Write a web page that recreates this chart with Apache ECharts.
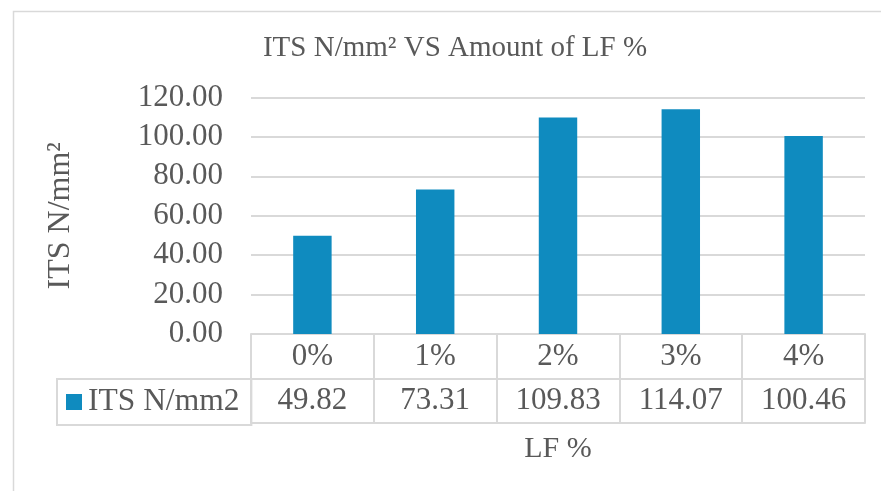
<!DOCTYPE html>
<html>
<head>
<meta charset="utf-8">
<title>ITS N/mm² VS Amount of LF %</title>
<script src="https://cdn.jsdelivr.net/npm/echarts@6/dist/echarts.min.js"></script>
<style>
  html, body { margin: 0; padding: 0; background: #ffffff; }
  #chart { width: 881px; height: 491px; }
</style>
</head>
<body>
<div id="chart"></div>
<script>
// LF content categories and measured indirect tensile strength
const lfCategories = ['0%', '1%', '2%', '3%', '4%'];
const itsValues = [49.82, 73.31, 109.83, 114.07, 100.46];
const seriesName = 'ITS N/mm2';

const FONT = '"Liberation Serif", "Times New Roman", serif';
const TEXT = '#595959';
const LINE = '#d9d9d9';
const BAR = '#0f8bbf';

const chart = echarts.init(document.getElementById('chart'), null, { renderer: 'canvas' });

const tableLine = { show: true, lineStyle: { color: LINE, width: 2 } };

chart.setOption({
  backgroundColor: '#ffffff',
  animation: false,
  graphic: [{
    // chart-area frame
    type: 'rect',
    left: 11, top: 9,
    shape: { width: 900, height: 600 },
    style: { fill: 'none', stroke: LINE, lineWidth: 1.5 },
    silent: true, z: -10
  }],
  title: {
    text: 'ITS N/mm² VS Amount of LF %',
    left: 450,
    top: 29,
    textAlign: 'center',
    textStyle: { fontFamily: FONT, fontSize: 29, fontWeight: 'normal', color: TEXT }
  },
  legend: {
    data: [seriesName],
    left: 57,
    top: 379,
    orient: 'horizontal',
    icon: 'rect',
    itemWidth: 16,
    itemHeight: 16,
    padding: [7, 12, 7, 9],
    borderColor: LINE,
    borderWidth: 2,
    borderRadius: 0,
    textStyle: { fontFamily: FONT, fontSize: 31.5, color: TEXT, padding: [0, 0, 0, 1] }
  },
  grid: { left: 251, right: 16, top: 97.5, bottom: 157, containLabel: false },
  xAxis: [
    {
      // category row of the data table
      type: 'category',
      data: lfCategories,
      position: 'bottom',
      axisLine: tableLine,
      axisTick: { show: true, length: 45, interval: 0, lineStyle: { color: LINE, width: 2 } },
      axisLabel: {
        interval: 0, margin: 22.5, verticalAlign: 'middle',
        fontFamily: FONT, fontSize: 31, color: TEXT
      },
      splitLine: { show: false }
    },
    {
      // value row of the data table
      type: 'category',
      data: itsValues.map(v => v.toFixed(2)),
      position: 'bottom',
      offset: 45,
      axisLine: tableLine,
      axisTick: { show: true, length: 44, interval: 0, lineStyle: { color: LINE, width: 2 } },
      axisLabel: {
        interval: 0, margin: 22, verticalAlign: 'middle',
        fontFamily: FONT, fontSize: 31, color: TEXT
      },
      splitLine: { show: false }
    },
    {
      // table bottom edge and axis title
      type: 'category',
      data: lfCategories,
      position: 'bottom',
      offset: 89,
      axisLine: tableLine,
      axisTick: { show: false },
      axisLabel: { show: false },
      name: 'LF %',
      nameLocation: 'middle',
      nameGap: 11,
      nameTextStyle: { fontFamily: FONT, fontSize: 30, color: TEXT, verticalAlign: 'top' }
    }
  ],
  yAxis: {
    type: 'value',
    min: 0,
    max: 120,
    interval: 20,
    name: 'ITS N/mm²',
    nameLocation: 'middle',
    nameGap: 174,
    nameTextStyle: { fontFamily: FONT, fontSize: 32, color: TEXT },
    axisLine: { show: false },
    axisTick: { show: false },
    axisLabel: {
      margin: 28,
      fontFamily: FONT, fontSize: 31, color: TEXT,
      formatter: v => v.toFixed(2)
    },
    splitLine: { show: true, lineStyle: { color: LINE, width: 2 } }
  },
  series: [{
    name: seriesName,
    type: 'bar',
    xAxisIndex: 0,
    yAxisIndex: 0,
    data: itsValues,
    barWidth: '31.3%',
    itemStyle: { color: BAR }
  }]
});
</script>
</body>
</html>
